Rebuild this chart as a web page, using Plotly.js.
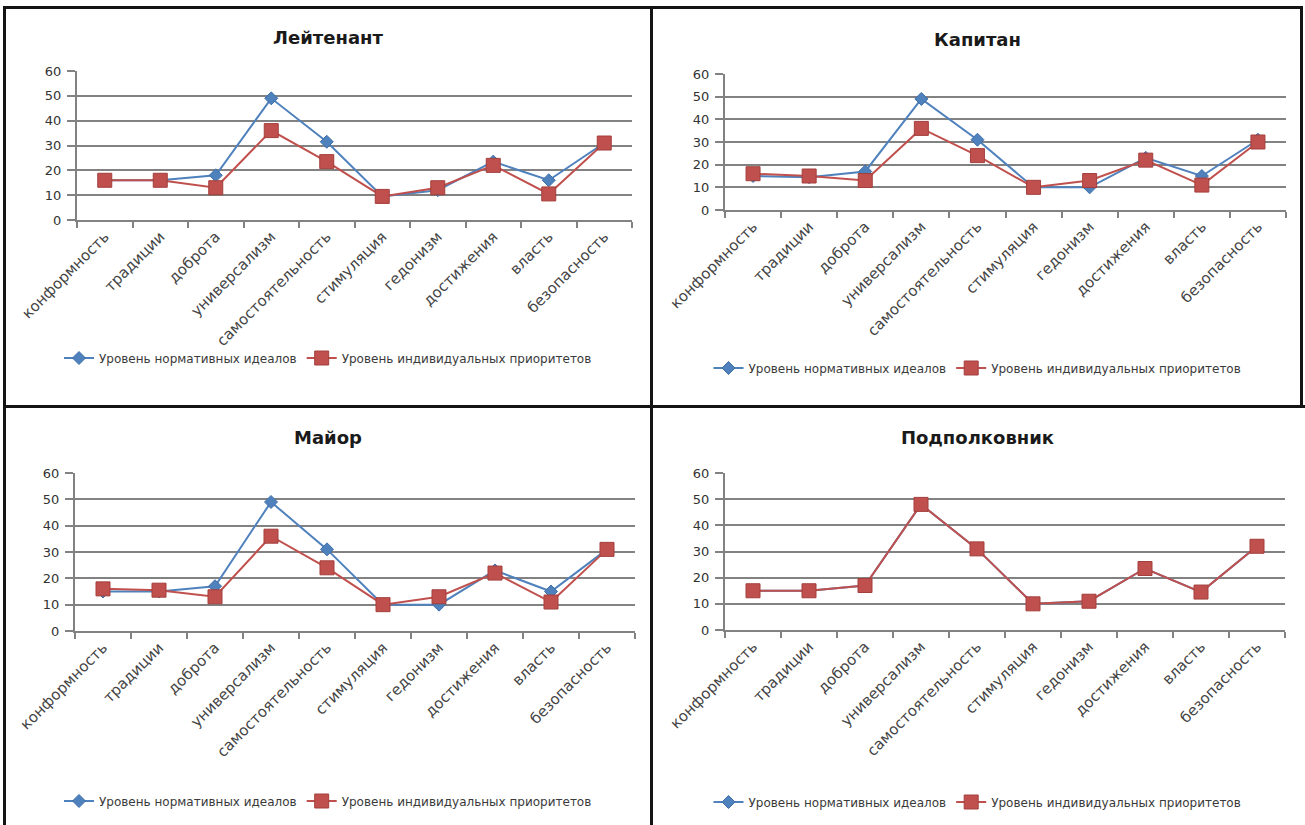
<!DOCTYPE html>
<html lang="ru">
<head>
<meta charset="utf-8">
<title>Уровень нормативных идеалов и индивидуальных приоритетов</title>
<script src="https://cdn.plot.ly/plotly-3.0.1.min.js"></script>
<style>
  html, body { margin: 0; padding: 0; background: #ffffff; }
  body { width: 1305px; height: 825px; position: relative; overflow: hidden; }
  .chart { position: absolute; }
  .rule { position: absolute; background: #141414; }
</style>
</head>
<body>
<!-- frame lines separating the four charts -->
<div class="rule" style="left:3px; top:6px; width:1300px; height:3px;"></div>
<div class="rule" style="left:3px; top:405px; width:1302px; height:3px;"></div>
<div class="rule" style="left:3px; top:6px; width:3px; height:819px;"></div>
<div class="rule" style="left:650px; top:6px; width:3px; height:819px;"></div>
<div class="rule" style="left:1300px; top:6px; width:3px; height:402px;"></div>

<div id="lieutenant" class="chart" style="left:8px; top:10px; width:640px; height:395px;"></div>
<div id="captain" class="chart" style="left:655px; top:10px; width:645px; height:395px;"></div>
<div id="major" class="chart" style="left:6px; top:410px; width:644px; height:415px;"></div>
<div id="ltcolonel" class="chart" style="left:655px; top:410px; width:645px; height:415px;"></div>

<script>
// Value categories (x axis)
const categories = ['конформность', 'традиции', 'доброта', 'универсализм', 'самостоятельность',
                    'стимуляция', 'гедонизм', 'достижения', 'власть', 'безопасность'];

// Series names
const seriesIdeals = 'Уровень нормативных идеалов';
const seriesPriorities = 'Уровень индивидуальных приоритетов';

// Chart titles
const titleLieutenant = 'Лейтенант';
const titleCaptain = 'Капитан';
const titleMajor = 'Майор';
const titleLtColonel = 'Подполковник';

// Лейтенант
const lieutenantIdeals     = [16, 16, 18, 49, 31.5, 9.5, 12, 23.5, 16, 31];
const lieutenantPriorities = [16, 16, 13, 36, 23.5, 9.5, 13, 22, 10.5, 31];

// Капитан
const captainIdeals     = [15, 14.5, 17, 49, 31, 10, 10, 23, 15, 31];
const captainPriorities = [16, 15, 13, 36, 24, 10, 13, 22, 11, 30];

// Майор
const majorIdeals     = [15, 15, 17, 49, 31, 10, 10, 23, 15, 31];
const majorPriorities = [16, 15.5, 13, 36, 24, 10, 13, 22, 11, 31];

// Подполковник
const ltColonelIdeals     = [15, 15, 17, 48, 31, 10, 11, 23.5, 14.5, 32];
const ltColonelPriorities = [15, 15, 17, 48, 31, 10, 11, 23.5, 14.5, 32];

const FONT = 'DejaVu Sans, Verdana, sans-serif';
const BLUE = '#4f81bd';
const RED = '#c0504d';
const GRID = '#828282';

function drawPanel(id, title, ideals, priorities, box) {
  const traces = [
    {
      type: 'scatter', mode: 'lines+markers', name: seriesIdeals,
      x: categories, y: ideals,
      line: { color: BLUE, width: 2 },
      marker: { symbol: 'diamond', size: 10, color: BLUE, line: { color: '#3e6ea8', width: 1 } }
    },
    {
      type: 'scatter', mode: 'lines+markers', name: seriesPriorities,
      x: categories, y: priorities,
      line: { color: RED, width: 2 },
      marker: { symbol: 'square', size: 14, color: RED, line: { color: '#a33f3c', width: 1 } }
    }
  ];

  const layout = {
    width: box.w, height: box.h,
    margin: box.m,
    paper_bgcolor: 'rgba(0,0,0,0)',
    plot_bgcolor: '#ffffff',
    showlegend: true,
    title: {
      text: title,
      font: { family: FONT, size: 18, color: '#1a1a1a', weight: 'bold' },
      xref: 'container', x: 0.5, xanchor: 'center',
      yref: 'container', y: box.titleY, yanchor: 'middle'
    },
    xaxis: {
      type: 'category',
      range: [-0.5, categories.length - 0.5],
      tickson: 'boundaries',
      ticks: 'outside', ticklen: 6, tickwidth: 2, tickcolor: GRID,
      showline: true, linecolor: GRID, linewidth: 2,
      showgrid: false, zeroline: false,
      tickangle: -45,
      tickfont: { family: FONT, size: 15, color: '#444444' },
      automargin: false
    },
    yaxis: {
      range: [0, 60], dtick: 10, tick0: 0,
      showgrid: true, gridcolor: GRID, gridwidth: 2,
      showline: true, linecolor: GRID, linewidth: 2,
      ticks: 'outside', ticklen: 8, tickwidth: 2, tickcolor: GRID,
      ticklabelstandoff: 3,
      zeroline: false,
      tickfont: { family: FONT, size: 13, color: '#333333' },
      automargin: false
    },
    legend: {
      orientation: 'h',
      xref: 'container', x: 0.5, xanchor: 'center',
      yref: 'container', y: box.legendY, yanchor: 'middle',
      font: { family: FONT, size: 12, color: '#3a3a3a' },
      bgcolor: 'rgba(0,0,0,0)'
    }
  };

  Plotly.newPlot(id, traces, layout, { staticPlot: true, displayModeBar: false });
}

drawPanel('lieutenant', titleLieutenant, lieutenantIdeals, lieutenantPriorities,
  { w: 640, h: 395, m: { l: 69, r: 16, t: 61, b: 185 }, titleY: 1 - 28 / 395, legendY: 1 - 348 / 395 });
drawPanel('captain', titleCaptain, captainIdeals, captainPriorities,
  { w: 645, h: 395, m: { l: 70, r: 14, t: 64, b: 195 }, titleY: 1 - 30 / 395, legendY: 1 - 358 / 395 });
drawPanel('major', titleMajor, majorIdeals, majorPriorities,
  { w: 644, h: 415, m: { l: 69, r: 15, t: 63, b: 194 }, titleY: 1 - 28 / 415, legendY: 1 - 391 / 415 });
drawPanel('ltcolonel', titleLtColonel, ltColonelIdeals, ltColonelPriorities,
  { w: 645, h: 415, m: { l: 70, r: 15, t: 63, b: 195 }, titleY: 1 - 28 / 415, legendY: 1 - 392 / 415 });
</script>
</body>
</html>
